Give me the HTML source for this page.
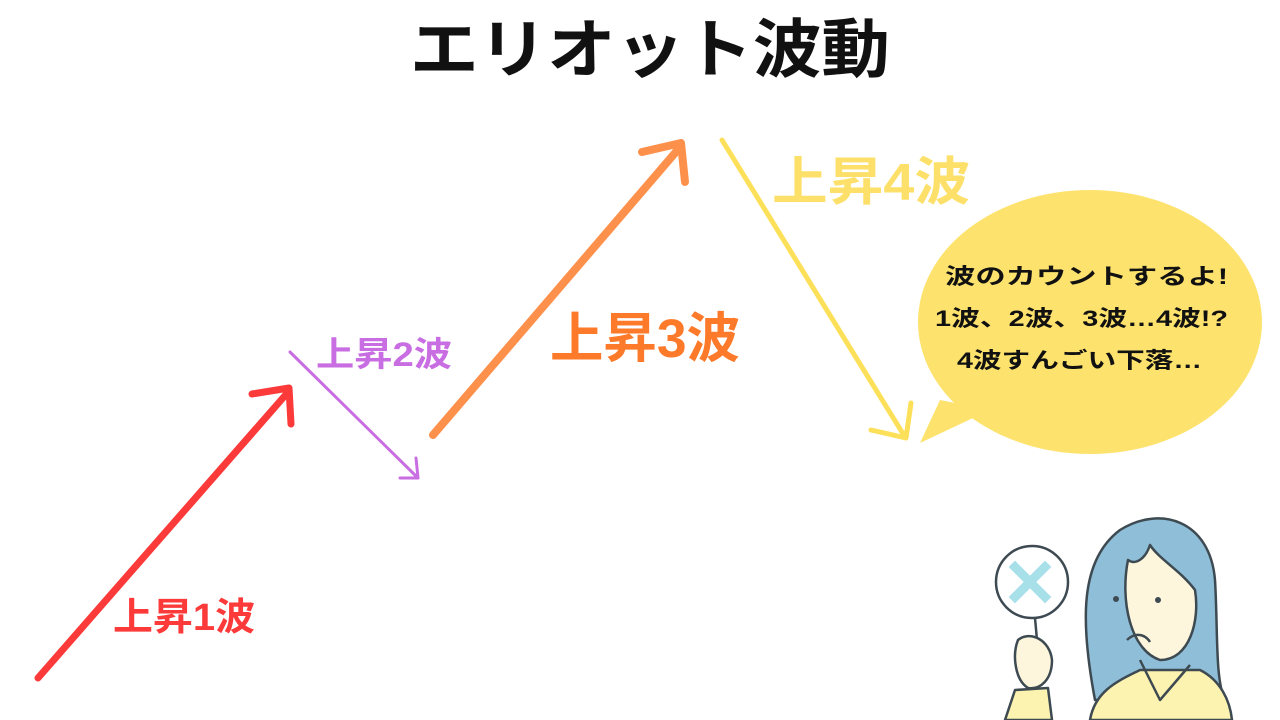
<!DOCTYPE html>
<html><head><meta charset="utf-8"><style>
body{margin:0;width:1280px;height:720px;background:#fff;overflow:hidden}
svg{display:block}
text{font-family:"Liberation Sans","Noto Sans CJK JP",sans-serif;font-weight:bold}
</style></head><body>
<svg width="1280" height="720" viewBox="0 0 1280 720">
<text x="410" y="72" font-size="64" fill="#111" textLength="480" lengthAdjust="spacingAndGlyphs">エリオット波動</text>
<g fill="none" stroke-linecap="round" stroke-linejoin="round">
<path d="M38 678 L289 391" stroke="#fc3a3a" stroke-width="7"/>
<path d="M252 394 L289 388 L291 424" stroke="#fc3a3a" stroke-width="7"/>
<path d="M290 352 L418 478" stroke="#c96ee2" stroke-width="3"/>
<path d="M400 478 L418 478 L416 458" stroke="#c96ee2" stroke-width="3"/>
<path d="M433 435 L681 146" stroke="#fd914c" stroke-width="8"/>
<path d="M642 152 L681 143 L685 182" stroke="#fd914c" stroke-width="8"/>
<path d="M722 140 L905 437" stroke="#fde05a" stroke-width="5"/>
<path d="M871 430 L906 438 L911 403" stroke="#fde05a" stroke-width="5"/>
</g>
<text x="113" y="630" font-size="38" fill="#fc3a3a" textLength="142" lengthAdjust="spacingAndGlyphs">上昇1波</text>
<text x="316" y="366" font-size="34" fill="#c96ee2" textLength="136" lengthAdjust="spacingAndGlyphs">上昇2波</text>
<text x="550" y="357" font-size="54" fill="#fd7a2a" textLength="190" lengthAdjust="spacingAndGlyphs">上昇3波</text>
<text x="772" y="200" font-size="52" fill="#fde06a" textLength="198" lengthAdjust="spacingAndGlyphs">上昇4波</text>
<ellipse cx="1090" cy="322" rx="172" ry="132" fill="#fde36e"/>
<path d="M940 400 L920 443 L990 410 Z" fill="#fde36e"/>
<g font-size="22" fill="#111">
<text x="945" y="284" textLength="283" lengthAdjust="spacingAndGlyphs">波のカウントするよ!</text>
<text x="935" y="326" textLength="293" lengthAdjust="spacingAndGlyphs">1波、2波、3波…4波!?</text>
<text x="957" y="368" textLength="245" lengthAdjust="spacingAndGlyphs">4波すんごい下落…</text>
</g>
<!-- person -->
<g stroke="#3e4a52" stroke-width="2.5" stroke-linejoin="round">
<path d="M1095 700 C1080 620 1080 560 1120 530 C1160 505 1210 520 1215 580 C1218 630 1215 680 1225 700 Z" fill="#8fbfd8"/>
<path d="M1090 720 C1095 690 1120 680 1140 670 L1200 670 C1220 680 1230 700 1232 720 Z" fill="#fdf3b0"/>
<path d="M1128 560 C1120 600 1130 650 1160 660 C1190 660 1200 620 1195 590 C1180 570 1160 560 1150 545 C1145 560 1135 565 1128 560 Z" fill="#fdf6dc"/>
<path d="M1140 660 L1160 700 L1190 665" fill="none"/>
<circle cx="1032" cy="582" r="36" fill="#fff"/>
<path d="M1035 618 L1037 640" fill="none"/>
<path d="M1018 640 C1030 630 1050 640 1052 660 C1052 680 1040 690 1028 688 C1015 680 1012 655 1018 640 Z" fill="#fdf6dc"/>
<path d="M1015 690 L1005 720 L1052 720 L1048 688 Z" fill="#fdf3b0"/>
</g>
<path d="M1015 567 L1045 597 M1045 567 L1015 597" stroke="#a8e0ea" stroke-width="9" stroke-linecap="square"/>
<circle cx="1116" cy="599" r="3" fill="#3e4a52"/><circle cx="1158" cy="600" r="3" fill="#3e4a52"/>
<path d="M1127 640 C1135 632 1145 634 1150 642" stroke="#3e4a52" stroke-width="2.5" fill="none"/>
</svg>
</body></html>
